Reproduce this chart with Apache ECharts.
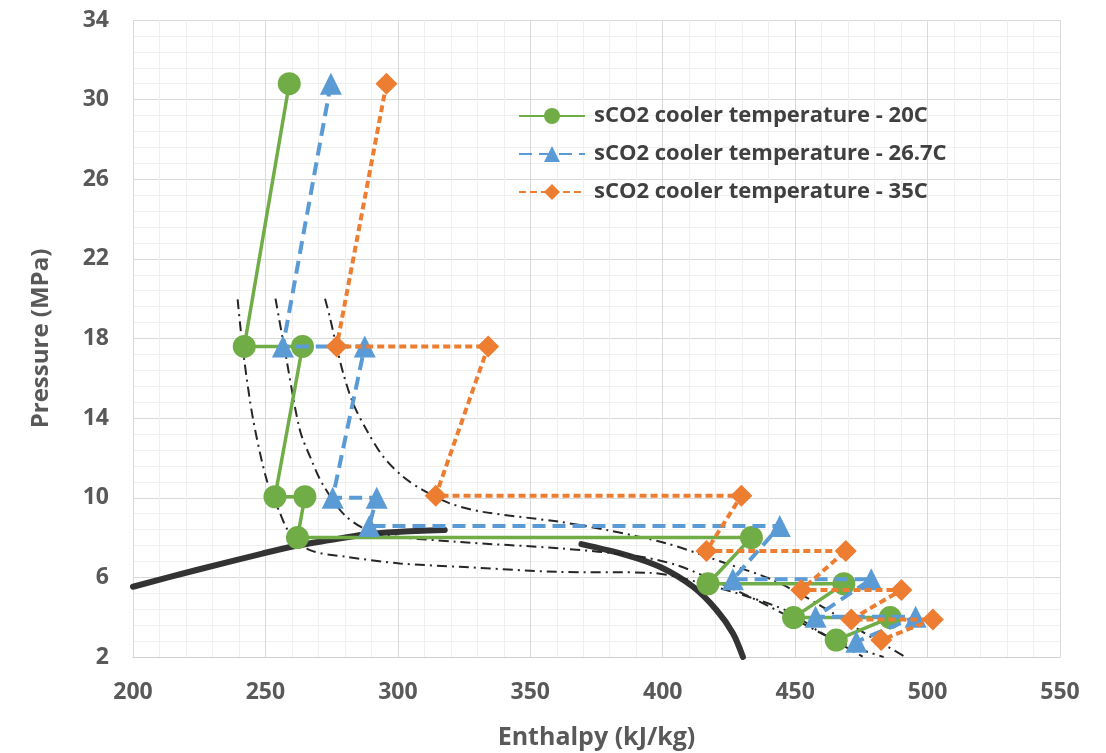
<!DOCTYPE html>
<html>
<head>
<meta charset="utf-8">
<script src="https://cdn.jsdelivr.net/npm/echarts@6/dist/echarts.min.js"></script>
<style>
  html, body { margin: 0; padding: 0; background: #fff; }
  #chart { width: 1106px; height: 753px; }
</style>
</head>
<body>
<div id="chart"></div>
<script>
// cycle points: enthalpy (kJ/kg) and pressure (MPa)
var h20 = [259.0, 242.0, 264.0, 253.6, 264.9, 262.1, 433.5, 417.1, 468.4, 449.4, 485.9, 465.5];
var p20 = [30.8, 17.6, 17.6, 10.05, 10.05, 8.0, 8.0, 5.68, 5.68, 3.98, 3.98, 2.85];

var h267 = [274.7, 256.6, 287.5, 275.4, 292.0, 289.2, 444.2, 426.5, 478.7, 457.7, 495.5, 473.1];
var p267 = [30.8, 17.6, 17.6, 10.0, 10.0, 8.58, 8.58, 5.9, 5.9, 4.02, 4.02, 2.77];

var h35 = [295.7, 276.9, 334.1, 314.3, 429.7, 416.5, 469.1, 452.3, 490.1, 471.2, 502.0, 482.5];
var p35 = [30.8, 17.6, 17.6, 10.1, 10.1, 7.33, 7.33, 5.36, 5.36, 3.89, 3.89, 2.85];

// saturation dome (thick black)
var hDomeL = [200.0, 224.0, 249.2, 261.8, 274.3, 286.9, 299.5, 317.7];
var pDomeL = [5.53, 6.37, 7.21, 7.59, 7.87, 8.14, 8.28, 8.38];
var hDomeR = [369.3, 386.3, 398.9, 411.4, 420.3, 426.5, 430.3];
var pDomeR = [7.67, 7.12, 6.53, 5.53, 4.36, 3.19, 2.0];

// isotherms (thin dash-dot)
var hIso1 = [239.5, 240.4, 242.0, 245.4, 250.5, 255.5, 259.2, 266.8, 280.6, 300.8, 323.4, 359.9, 395.1, 405.2, 430.3, 447.9, 458.0, 475.5];
var pIso1 = [19.97, 18.77, 16.91, 13.9, 10.89, 9.23, 8.22, 7.37, 7.03, 6.7, 6.53, 6.28, 6.23, 6.03, 5.11, 4.26, 3.36, 2.02];
var hIso2 = [253.8, 258.0, 263.0, 267.4, 271.8, 280.6, 292.0, 322.2, 361.1, 390.1, 405.2, 419.0, 435.4, 451.7, 466.8, 483.4];
var pIso2 = [20.0, 16.91, 13.4, 11.89, 10.63, 9.04, 8.21, 7.79, 7.46, 7.07, 6.62, 5.87, 4.86, 3.76, 2.75, 2.0];
var hIso3 = [272.5, 274.3, 276.9, 279.4, 283.1, 288.2, 294.5, 302.0, 309.5, 319.6, 332.2, 361.1, 378.8, 401.4, 424.0, 441.6, 459.2, 476.2, 491.7];
var pIso3 = [20.0, 19.08, 17.58, 16.24, 14.74, 13.4, 12.06, 11.05, 10.38, 9.72, 9.29, 8.79, 8.38, 7.71, 6.7, 5.87, 4.61, 3.2, 2.0];

var names = ['sCO2 cooler temperature - 20C', 'sCO2 cooler temperature - 26.7C', 'sCO2 cooler temperature - 35C'];

function pairs(hs, ps) {
  return hs.map(function (h, i) { return [h, ps[i]]; });
}

var font = '"Open Sans", "Liberation Sans", sans-serif';

function bgLine(hs, ps, thick) {
  return {
    type: 'line',
    data: pairs(hs, ps),
    showSymbol: false,
    smooth: 0.3,
    silent: true,
    z: 1,
    lineStyle: thick
      ? { color: '#333333', width: 6, cap: 'round' }
      : { color: '#262626', width: 2, type: [10, 5, 2, 5] }
  };
}

var chart = echarts.init(document.getElementById('chart'));
var option = {
  animation: false,
  backgroundColor: '#ffffff',
  grid: { left: 133, right: 46, top: 20, bottom: 96, outerBoundsMode: 'none' },
  legend: {
    data: names,
    orient: 'vertical',
    left: 513,
    top: 100,
    itemWidth: 66,
    itemHeight: 20,
    itemGap: 16,
    textStyle: { fontFamily: font, fontWeight: 'bold', fontSize: 22, color: '#404040', padding: [0, 0, 0, 4] }
  },
  xAxis: {
    type: 'value',
    min: 200, max: 550, interval: 50,
    name: 'Enthalpy (kJ/kg)',
    nameLocation: 'middle',
    nameGap: 68,
    nameTextStyle: { fontFamily: font, fontWeight: 'bold', fontSize: 25, color: '#595959' },
    axisLine: { show: true, lineStyle: { color: '#d0d0d0' } },
    axisTick: { show: false },
    axisLabel: { fontFamily: font, fontWeight: 'bold', fontSize: 23, color: '#595959', margin: 24 },
    splitLine: { lineStyle: { color: '#d9d9d9' } },
    minorTick: { show: false, splitNumber: 5 },
    minorSplitLine: { show: true, lineStyle: { color: '#f0f0f0' } }
  },
  yAxis: {
    type: 'value',
    min: 2, max: 34, interval: 4,
    name: 'Pressure (MPa)',
    nameLocation: 'middle',
    nameGap: 80,
    nameTextStyle: { fontFamily: font, fontWeight: 'bold', fontSize: 24, color: '#595959' },
    axisLine: { show: false },
    axisTick: { show: false },
    axisLabel: { fontFamily: font, fontWeight: 'bold', fontSize: 23, color: '#595959', margin: 24 },
    splitLine: { lineStyle: { color: '#d9d9d9' } },
    minorTick: { show: false, splitNumber: 5 },
    minorSplitLine: { show: true, lineStyle: { color: '#f0f0f0' } }
  },
  series: [
    bgLine(hDomeL, pDomeL, true),
    bgLine(hDomeR, pDomeR, true),
    bgLine(hIso1, pIso1, false),
    bgLine(hIso2, pIso2, false),
    bgLine(hIso3, pIso3, false),
    {
      name: names[0],
      type: 'line',
      data: pairs(h20, p20),
      symbol: 'circle',
      symbolSize: 23,
      z: 3,
      itemStyle: { color: '#70ad47' },
      lineStyle: { color: '#70ad47', width: 3.5 }
    },
    {
      name: names[1],
      type: 'line',
      data: pairs(h267, p267),
      symbol: 'triangle',
      symbolSize: 22,
      z: 4,
      itemStyle: { color: '#5b9bd5' },
      lineStyle: { color: '#5b9bd5', width: 4, type: [13, 7] }
    },
    {
      name: names[2],
      type: 'line',
      data: pairs(h35, p35),
      symbol: 'diamond',
      symbolSize: 22,
      z: 5,
      itemStyle: { color: '#ed7d31' },
      lineStyle: { color: '#ed7d31', width: 4, type: [7, 4] }
    }
  ]
};
chart.setOption(option);
</script>
</body>
</html>
